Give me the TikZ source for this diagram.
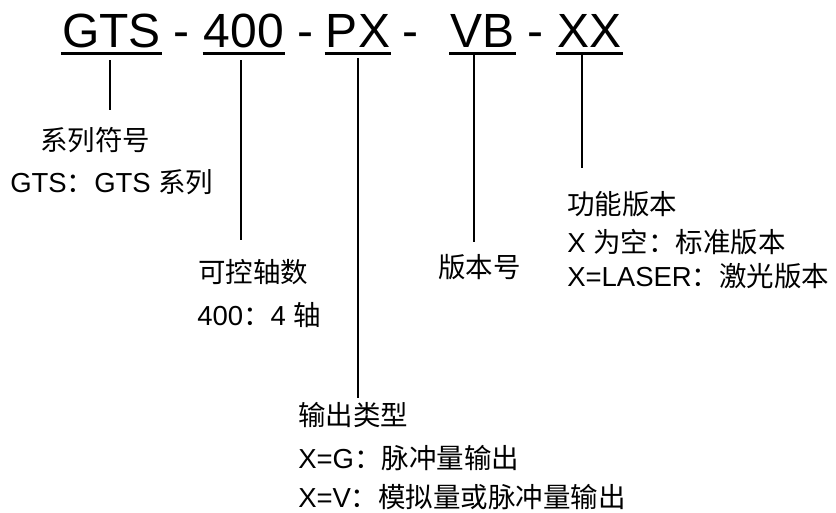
\documentclass[tikz,border=0pt]{standalone}
\usepackage{fontspec}
\setmainfont{Liberation Sans}
\newfontfamily\cjk{Noto Sans CJK SC}
\newcommand{\zh}[1]{{\cjk #1}}

\begin{document}
\begin{tikzpicture}[x=1pt,y=-1pt,line width=2.5pt,
  code node/.style={anchor=base,inner sep=0pt,font=\fontsize{48}{48}\selectfont},
  label node/.style={anchor=base west,inner sep=0pt,font=\fontsize{27.5}{27.5}\selectfont},
  bar/.style={line width=3.5pt}]
\useasboundingbox (0,0) rectangle (836,512);
\node[code node](G) at (111.5,47){GTS};
\node[code node](d1) at (181.5,47){-};
\node[code node](A) at (244,47){400};
\node[code node](d2) at (305,47){-};
\node[code node](P) at (358,47){PX};
\node[code node](d3) at (410.5,47){-};
\node[code node](V) at (482.5,47){VB};
\node[code node](d4) at (535.5,47){-};
\node[code node](X) at (589.5,47){XX};
\foreach \n in {G,A,P,V,X}
  \draw[bar] ([yshift=-6.5pt]\n.base west) -- ([yshift=-6.5pt]\n.base east);

\foreach \n/\x/\a/\b in {gts/110/60/110,axis/241/60/240,out/358/58/398,ver/474/55/242,fun/582/55/168}{
  \coordinate (\n a) at (\x,\a);
  \coordinate (\n b) at (\x,\b);
  \draw (\n a) -- (\n b);
}

\node[label node](ser) at (39,150){\zh{系列符号}};
\node[label node](ser2) at (9,192){GTS\zh{：}GTS \zh{系列}};
\node[label node](ax) at (197,282){\zh{可控轴数}};
\node[label node](ax2) at (196,325){400\zh{：}4 \zh{轴}};
\node[label node](vn) at (437,277){\zh{版本号}};
\node[label node](fn) at (566,214){\zh{功能版本}};
\node[label node](fn2) at (566,252){X \zh{为空：标准版本}};
\node[label node](fn3) at (566,286){X=LASER\zh{：激光版本}};
\node[label node](ot) at (297,425){\zh{输出类型}};
\node[label node](ot2) at (297,468){X=G\zh{：脉冲量输出}};
\node[label node](ot3) at (297,507){X=V\zh{：模拟量或脉冲量输出}};
\end{tikzpicture}
\end{document}
